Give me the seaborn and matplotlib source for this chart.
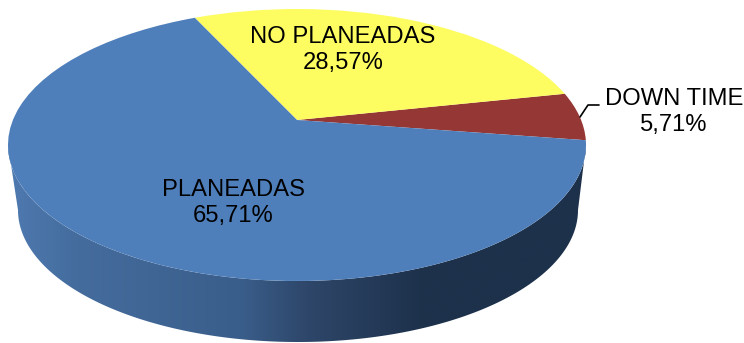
import numpy as np
import matplotlib
matplotlib.use("Agg")
import matplotlib.pyplot as plt
import seaborn as sns
from matplotlib.transforms import Transform
from matplotlib.patches import Polygon
from matplotlib.colors import LinearSegmentedColormap

categories = ["DOWN TIME", "NO PLANEADAS", "PLANEADAS"]
values = [5.71, 28.57, 65.71]
slice_colors = ["#953735", "#FDFD62", "#4F7FBB"]
wall_colors = ["#4F7AB0", "#446C9D", "#3A5E8B", "#2E4669", "#1D314B", "#1D314B"]
wall_stops = [0.0, 0.12, 0.40, 0.52, 0.72, 1.0]

sns.set_theme(style="white")
plt.rcParams["font.family"] = ["Liberation Sans", "DejaVu Sans"]

W, H = 744, 343
CX, CY, RX, RY = 297.0, 145.0, 289.0, 136.0
TILT = (CY - 120.0) / RY


def px(x, y):
    return (x - CX) / RX, (CY - y) / RY


class Perspective(Transform):
    """Projective map of the unit circle onto itself, moving the centre up."""
    input_dims = output_dims = 2
    is_affine = False

    def transform_non_affine(self, pts):
        pts = np.asarray(pts, dtype=float)
        x, y = pts[:, 0], pts[:, 1]
        d = 1 + TILT * y
        return np.column_stack([x * np.sqrt(1 - TILT ** 2) / d, (y + TILT) / d])


fig = plt.figure(figsize=(W / 100, H / 100), dpi=100)
ax = fig.add_axes([0, 0, 1, 1])
wedges, _ = ax.pie(values, colors=sns.color_palette(slice_colors), startangle=-8.6,
                   counterclock=True, wedgeprops=dict(linewidth=0))
ax.set_aspect("auto")
ax.set_xlim(px(0, 0)[0], px(W, 0)[0])
ax.set_ylim(px(0, H)[1], px(0, 0)[1])
ax.axis("off")

persp = Perspective()
for w in wedges:
    w.set_transform(persp + ax.transData)
    w.set_zorder(3)
    w.set_antialiased(True)

# side wall of the disc
t = np.linspace(np.pi, 2 * np.pi, 200)
top = np.column_stack([np.cos(t), np.sin(t)])
bx, by = px(298 + 0 * t, 210 + 0 * t)
bottom = np.column_stack([bx + 280 / RX * np.cos(t), by + 132 / RY * np.sin(t)])
wall = Polygon(np.vstack([top, bottom[::-1]]), closed=True, facecolor="none",
               edgecolor="none", transform=ax.transData)
ax.add_patch(wall)
cmap = LinearSegmentedColormap.from_list("wall", list(zip(wall_stops, wall_colors)))
x0, y0 = px(8, 343)
x1, y1 = px(586, 141)
im = ax.imshow(np.linspace(0, 1, 512)[None, :], cmap=cmap, aspect="auto",
               extent=(x0, x1, y0, y1), zorder=2, vmin=0, vmax=1)
im.set_clip_path(wall)
ax.set_xlim(px(0, 0)[0], px(W, 0)[0])
ax.set_ylim(px(0, H)[1], px(0, 0)[1])
ax.set_aspect("auto")

# labels
centres = [(674, 112), (343, 50), (233, 203)]
for name, val, (lx, ly) in zip(categories, values, centres):
    tx, ty = px(lx, ly)
    ax.text(tx, ty, f"{name}\n{val:.2f}%".replace(".", ","), ha="center", va="center",
            fontsize=17.1, color="black", linespacing=1.27, zorder=5)

lead = np.array([px(580, 117), px(588, 105), px(599, 105)])
ax.plot(lead[:, 0], lead[:, 1], color="black", lw=1.2, zorder=4)

fig.savefig("out.png", dpi=100)
